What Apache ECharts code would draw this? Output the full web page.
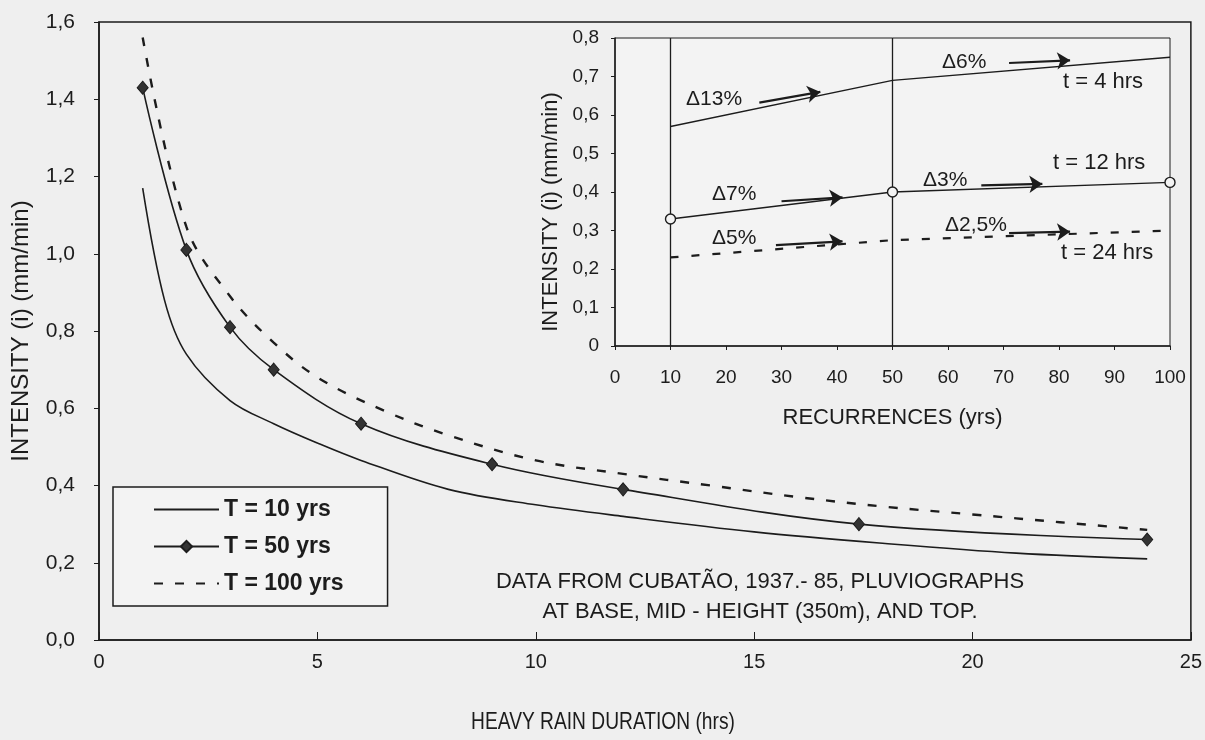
<!DOCTYPE html>
<html>
<head>
<meta charset="utf-8">
<script src="https://cdn.jsdelivr.net/npm/echarts@6/dist/echarts.min.js"></script>
<style>
    html, body { margin: 0; padding: 0; background: #efefef; }
    #chart { width: 1205px; height: 740px; }
</style>
</head>
<body>
<div id="chart"></div>
<script>
// main chart: intensity vs heavy rain duration (hrs)
var t10Hours = [1, 1.5, 2, 3, 4, 5, 6, 8, 10, 12, 15, 18, 21, 24];
var t10Intensity = [1.17, 0.88, 0.74, 0.62, 0.56, 0.51, 0.465, 0.39, 0.35, 0.32, 0.28, 0.25, 0.225, 0.21];
var t50Hours = [1, 2, 3, 4, 6, 9, 12, 17.4, 24];
var t50Intensity = [1.43, 1.01, 0.81, 0.70, 0.56, 0.455, 0.39, 0.30, 0.26];
var t100Hours = [1, 2, 3, 4, 5, 6.5, 8, 10, 12, 14, 16, 18, 20, 22, 24];
var t100Intensity = [1.56, 1.07, 0.89, 0.77, 0.68, 0.595, 0.53, 0.465, 0.43, 0.40, 0.37, 0.345, 0.325, 0.305, 0.285];
var legendNames = ['T = 10 yrs', 'T = 50 yrs', 'T = 100 yrs'];

// inset: intensity vs recurrence (yrs)
var recurrences = [10, 50, 100];
var t4Intensity = [0.57, 0.69, 0.75];
var t12Intensity = [0.33, 0.40, 0.425];
var t24Intensity = [0.23, 0.275, 0.30];
var insetGuides = [10, 50];
var insetLabels = ['t = 4 hrs', 't = 12 hrs', 't = 24 hrs'];
var deltaLabels = ['\u039413%', '\u03946%', '\u03947%', '\u03943%', '\u03945%', '\u03942,5%'];

// arrows next to the percentage labels, [from, to] in inset units
var arrows = [
    [[26, 0.632], [37, 0.66]],
    [[71, 0.735], [82, 0.742]],
    [[30, 0.376], [41, 0.386]],
    [[66, 0.417], [77, 0.421]],
    [[29, 0.262], [41, 0.272]],
    [[71, 0.293], [82, 0.297]]
];

function zip(xs, ys) {
    return xs.map(function (x, i) { return [x, ys[i]]; });
}

function comma(v) {
    if (v === 0) return '0';
    return v.toFixed(1).replace('.', ',');
}

var ink = '#1c1c1c';
var font = 'Liberation Sans, Arial, sans-serif';

var myChart = echarts.init(document.getElementById('chart'));

var option = {
    animation: false,
    backgroundColor: '#efefef',
    grid: [
        { left: 99, top: 22, right: 14, bottom: 100, show: true, borderColor: ink, borderWidth: 1.5 },
        { left: 615, top: 38, right: 35, bottom: 394, show: true, borderColor: ink, borderWidth: 1, backgroundColor: '#f3f3f3' }
    ],
    legend: {
        data: [
            { name: legendNames[0], itemStyle: { opacity: 0 } },
            { name: legendNames[1] },
            { name: legendNames[2], itemStyle: { opacity: 0 } }
        ],
        orient: 'vertical',
        left: 113,
        top: 487,
        padding: [11, 44, 11, 40],
        itemWidth: 65,
        itemHeight: 14,
        itemGap: 14,
        borderColor: ink,
        borderWidth: 1.5,
        backgroundColor: '#f3f3f3',
        textStyle: { fontFamily: font, fontSize: 23, fontWeight: 'bold', color: ink }
    },
    xAxis: [{
        gridIndex: 0,
        type: 'value',
        min: 0, max: 25, interval: 5,
        axisLine: { lineStyle: { color: ink, width: 1.5 } },
        axisTick: { inside: true, length: 8, lineStyle: { color: ink } },
        splitLine: { show: false },
        axisLabel: { margin: 12, fontFamily: font, fontSize: 20, color: ink }
    }, {
        gridIndex: 1,
        type: 'value',
        min: 0, max: 100, interval: 10,
        axisLine: { lineStyle: { color: ink, width: 1.5 } },
        axisTick: { length: 4, lineStyle: { color: ink } },
        splitLine: { show: false },
        axisLabel: { margin: 22, fontFamily: font, fontSize: 19, color: ink },
        name: 'RECURRENCES (yrs)',
        nameLocation: 'middle',
        nameGap: 61,
        nameTextStyle: { fontFamily: font, fontSize: 22, color: ink }
    }],
    yAxis: [{
        gridIndex: 0,
        type: 'value',
        min: 0, max: 1.6, interval: 0.2,
        axisLine: { lineStyle: { color: ink, width: 1.5 } },
        axisTick: { length: 5, lineStyle: { color: ink } },
        splitLine: { show: false },
        axisLabel: {
            margin: 24, fontFamily: font, fontSize: 21, color: ink,
            formatter: function (v) { return v.toFixed(1).replace('.', ','); }
        },
        name: 'INTENSITY (i) (mm/min)',
        nameLocation: 'middle',
        nameRotate: 90,
        nameGap: 66,
        nameTextStyle: { fontFamily: font, fontSize: 24, color: ink }
    }, {
        gridIndex: 1,
        type: 'value',
        min: 0, max: 0.8, interval: 0.1,
        axisLine: { lineStyle: { color: ink, width: 1.5 } },
        axisTick: { length: 4, lineStyle: { color: ink } },
        splitLine: { show: false },
        axisLabel: { margin: 16, fontFamily: font, fontSize: 19, color: ink, formatter: comma }
    }],
    series: [{
        name: legendNames[0],
        type: 'line',
        xAxisIndex: 0, yAxisIndex: 0,
        data: zip(t10Hours, t10Intensity),
        smooth: 0.35,
        symbol: 'none',
        lineStyle: { color: ink, width: 1.6 },
        itemStyle: { color: ink }
    }, {
        name: legendNames[1],
        type: 'line',
        xAxisIndex: 0, yAxisIndex: 0,
        data: zip(t50Hours, t50Intensity),
        smooth: 0.35,
        symbol: 'diamond',
        symbolSize: [11, 13],
        lineStyle: { color: ink, width: 1.6 },
        itemStyle: { color: '#333', borderColor: ink, borderWidth: 1 }
    }, {
        name: legendNames[2],
        type: 'line',
        xAxisIndex: 0, yAxisIndex: 0,
        data: zip(t100Hours, t100Intensity),
        smooth: 0.35,
        symbol: 'none',
        lineStyle: { color: ink, width: 2.4, type: [9, 12] },
        itemStyle: { color: ink }
    }, {
        name: insetLabels[0],
        type: 'line',
        xAxisIndex: 1, yAxisIndex: 1,
        data: zip(recurrences, t4Intensity),
        symbol: 'none',
        lineStyle: { color: ink, width: 1.4 }
    }, {
        name: insetLabels[1],
        type: 'line',
        xAxisIndex: 1, yAxisIndex: 1,
        data: zip(recurrences, t12Intensity),
        symbol: 'circle',
        symbolSize: 10,
        z: 5,
        lineStyle: { color: ink, width: 1.4 },
        itemStyle: { color: '#f3f3f3', borderColor: ink, borderWidth: 1.4 }
    }, {
        name: insetLabels[2],
        type: 'line',
        xAxisIndex: 1, yAxisIndex: 1,
        data: zip(recurrences, t24Intensity),
        symbol: 'none',
        lineStyle: { color: ink, width: 2.2, type: [8, 13] }
    }, {
        // vertical guides at 10 and 50 yrs
        name: 'guides',
        type: 'line',
        xAxisIndex: 1, yAxisIndex: 1,
        data: [],
        markLine: {
            silent: true,
            symbol: 'none',
            label: { show: false },
            lineStyle: { color: ink, width: 1.3, type: 'solid' },
            data: insetGuides.map(function (v) { return { xAxis: v }; })
        }
    }, {
        name: 'arrows',
        type: 'line',
        xAxisIndex: 1, yAxisIndex: 1,
        data: [],
        markLine: {
            silent: true,
            symbol: ['none', 'arrow'],
            symbolSize: 13,
            label: { show: false },
            lineStyle: { color: ink, width: 2.2, type: 'solid' },
            data: arrows.map(function (a) { return [{ coord: a[0] }, { coord: a[1] }]; })
        }
    }],
    graphic: [
        // condensed x axis title, as in the printed figure
        { type: 'text', x: 603, y: 722, scaleX: 0.8,
          style: { text: 'HEAVY RAIN DURATION (hrs)', font: '24px ' + font, fill: ink, align: 'center', verticalAlign: 'middle' } },
        { type: 'text', x: 551, y: 212, rotation: Math.PI / 2,
          style: { text: 'INTENSITY (i) (mm/min)', font: '22px ' + font, fill: ink, align: 'center', verticalAlign: 'middle' } },
        { type: 'text', x: 686, y: 99, style: { text: deltaLabels[0], font: '21px ' + font, fill: ink, verticalAlign: 'middle' } },
        { type: 'text', x: 942, y: 62, style: { text: deltaLabels[1], font: '21px ' + font, fill: ink, verticalAlign: 'middle' } },
        { type: 'text', x: 712, y: 194, style: { text: deltaLabels[2], font: '21px ' + font, fill: ink, verticalAlign: 'middle' } },
        { type: 'text', x: 923, y: 180, style: { text: deltaLabels[3], font: '21px ' + font, fill: ink, verticalAlign: 'middle' } },
        { type: 'text', x: 712, y: 238, style: { text: deltaLabels[4], font: '21px ' + font, fill: ink, verticalAlign: 'middle' } },
        { type: 'text', x: 945, y: 225, style: { text: deltaLabels[5], font: '21px ' + font, fill: ink, verticalAlign: 'middle' } },
        { type: 'text', x: 1063, y: 82, style: { text: insetLabels[0], font: '22px ' + font, fill: ink, verticalAlign: 'middle' } },
        { type: 'text', x: 1053, y: 163, style: { text: insetLabels[1], font: '22px ' + font, fill: ink, verticalAlign: 'middle' } },
        { type: 'text', x: 1061, y: 253, style: { text: insetLabels[2], font: '22px ' + font, fill: ink, verticalAlign: 'middle' } },
        { type: 'text', x: 760, y: 582,
          style: { text: 'DATA FROM CUBAT\u00c3O, 1937.- 85, PLUVIOGRAPHS', font: '22px ' + font, fill: ink, align: 'center', verticalAlign: 'middle' } },
        { type: 'text', x: 760, y: 612,
          style: { text: 'AT BASE, MID - HEIGHT (350m), AND TOP.', font: '22px ' + font, fill: ink, align: 'center', verticalAlign: 'middle' } }
    ]
};

myChart.setOption(option);
</script>
</body>
</html>
